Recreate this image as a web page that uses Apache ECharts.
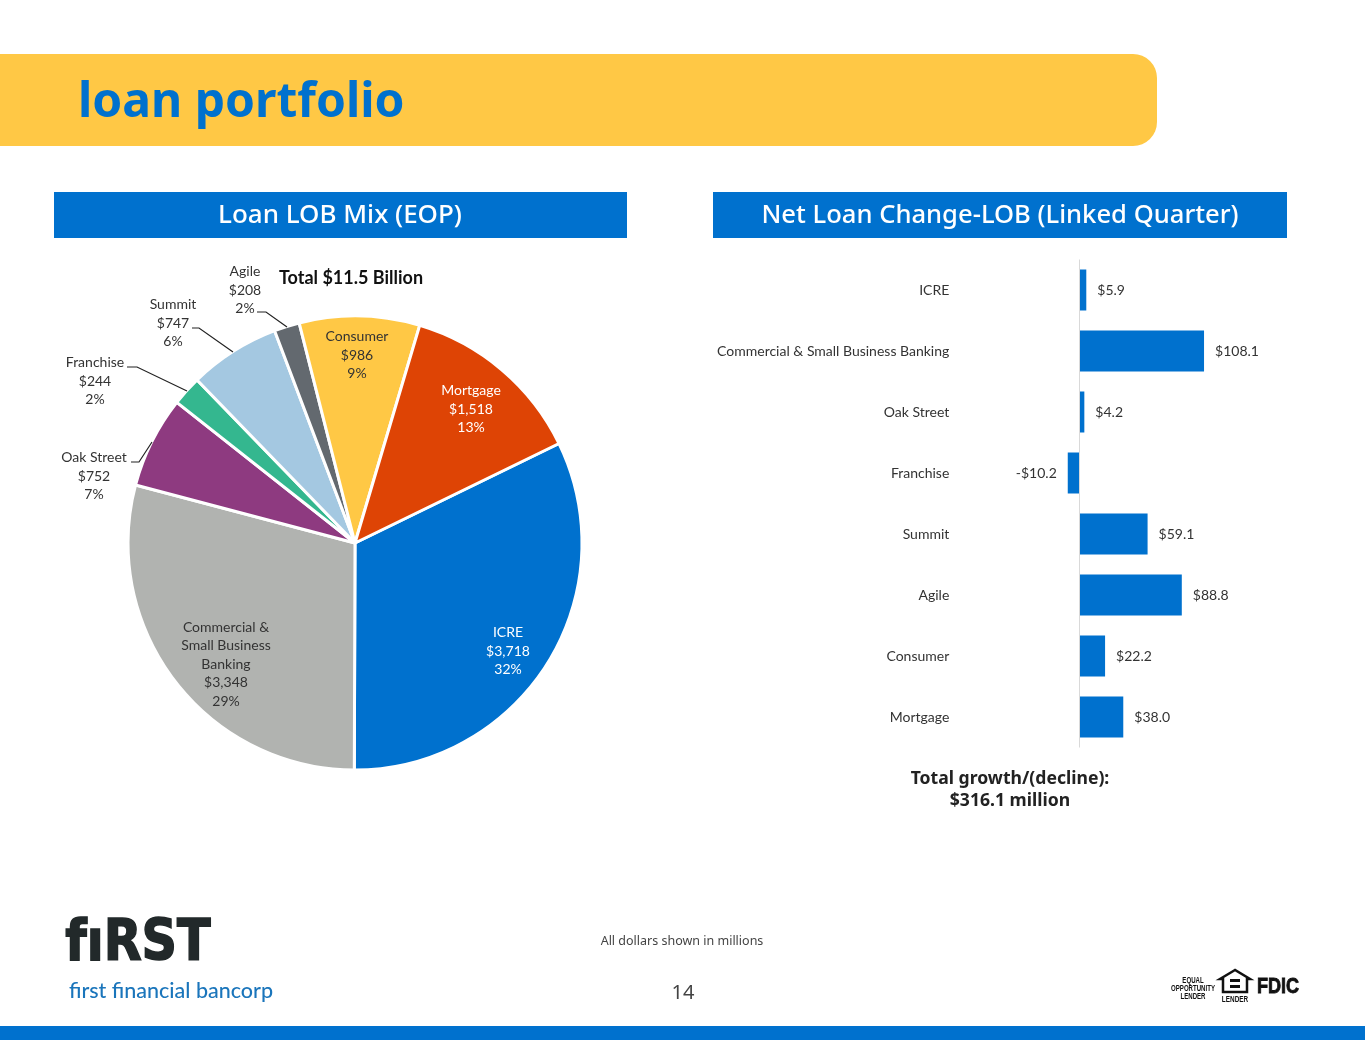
<!DOCTYPE html>
<html><head><meta charset="utf-8">
<style>html,body{margin:0;padding:0;background:#fff}#c{width:1365px;height:1055px}</style>
<script src="https://cdn.jsdelivr.net/npm/echarts@6/dist/echarts.min.js"></script>
</head><body><div id="c"></div>
<script>
const pieNames = ['ICRE','Commercial &\nSmall Business\nBanking','Oak Street','Franchise','Summit','Agile','Consumer','Mortgage'];
const pieValues = [3718,3348,752,244,747,208,986,1518];
const piePercents = [32,29,7,2,6,2,9,13];
const pieColors = ['#0071CE','#B1B3B0','#8E3A80','#34B78F','#A4C8E1','#63696F','#FFC845','#DE4405'];
const pieTextColors = ['#fff','#333','#333','#333','#333','#333','#333','#fff'];
const pieLabelPos = [[508,651],[226,664],[94,476],[95,381],[173,323],[245,290],[357,355],[471,409]];
const barCategories = ['ICRE','Commercial & Small Business Banking','Oak Street','Franchise','Summit','Agile','Consumer','Mortgage'];
const barValues = [5.9,108.1,4.2,-10.2,59.1,88.8,22.2,38.0];
const leaders = [
  [[131,462],[139,462],[152,442]],
  [[127,367],[137,367],[187,391]],
  [[192,328],[199,328],[233,352]],
  [[257,312],[266,312],[287,327]]
];
const BLUE = '#0071CE', HEAD = '"Noto Sans","Open Sans",sans-serif', BODY = 'Lato,"Open Sans",sans-serif';
const fmtMoney = v => (v < 0 ? '-$' : '$') + Math.abs(v).toFixed(1);
const txt = (x,y,text,font,fill,extra,sx,sy) => ({type:'text',x,y,scaleX:sx||1,scaleY:sy||1,silent:true,style:Object.assign({text,font,fill,align:'center',verticalAlign:'middle'},extra||{})});
const chart = echarts.init(document.getElementById('c'),null,{renderer:'canvas'});
chart.setOption({
  animation:false,
  backgroundColor:'#fff',
  graphic:{elements:[
    {type:'rect',z:-5,shape:{x:-30,y:54,width:1187,height:92,r:24},style:{fill:'#FFC845'}},
    txt(78,103,'loan portfolio','bold 48px '+HEAD,BLUE,{align:'left'}),
    {type:'rect',z:-5,shape:{x:54,y:192,width:573,height:46},style:{fill:BLUE}},
    {type:'rect',z:-5,shape:{x:713,y:192,width:574,height:46},style:{fill:BLUE}},
    txt(340,216,'Loan LOB Mix (EOP)','500 26px '+HEAD,'#fff'),
    txt(1000,216,'Net Loan Change-LOB (Linked Quarter)','500 25.6px '+HEAD,'#fff'),
    txt(351,278,'Total $11.5 Billion','bold 18px '+BODY,'#111'),
    txt(1010,779,'Total growth/(decline):','bold 17.6px '+HEAD,'#222'),
    txt(1010,801,'$316.1 million','bold 17.6px '+HEAD,'#222'),
    ...leaders.map(p=>({type:'polyline',z:20,silent:true,shape:{points:p},style:{stroke:'#222',lineWidth:1.2,fill:null}})),
    txt(682,941,'All dollars shown in millions','12.5px '+HEAD,'#444'),
    txt(683,993,'14','20px '+HEAD,'#444'),
    {type:'rect',shape:{x:0,y:1026,width:1365,height:14},style:{fill:BLUE}},
    txt(138,945,'fıRST','900 53px "DejaVu Sans",sans-serif','#22292A',{stroke:'#22292A',lineWidth:1.5},0.93,1.08),
    txt(171,991,'first financial bancorp','500 21.5px '+BODY,'#1A75BB'),
    txt(1193,981,'EQUAL','bold 8px "Liberation Sans"','#111',null,0.76,1.1),
    txt(1193,989,'OPPORTUNITY','bold 8px "Liberation Sans"','#111',null,0.76,1.1),
    txt(1193,997,'LENDER','bold 8px "Liberation Sans"','#111',null,0.76,1.1),
    {type:'polygon',shape:{points:[[1235,970],[1220,979],[1223,979],[1223,992],[1247,992],[1247,979],[1250,979]]},style:{fill:'#fff',stroke:'#111',lineWidth:2.5}},
    {type:'rect',shape:{x:1230,y:979,width:10,height:3},style:{fill:'#111'}},
    {type:'rect',shape:{x:1230,y:985,width:10,height:3},style:{fill:'#111'}},
    txt(1235,1000,'LENDER','bold 8px "Liberation Sans"','#111',null,0.8,1.1),
    txt(1278,987,'FDIC','bold 21px "Liberation Sans"','#111',{stroke:'#111',lineWidth:0.8},0.86,1.05)
  ]},
  grid:{left:964.3,top:259.5,width:288,height:488},
  xAxis:{type:'value',min:-100,max:150,show:false},
  yAxis:{type:'category',inverse:true,data:barCategories,
    axisLine:{show:false,onZero:false},axisTick:{show:false},splitLine:{show:false},
    axisLabel:{color:'#333',fontSize:14,fontFamily:BODY,margin:15}},
  series:[
    {type:'pie',center:[355,543],radius:[0,227],startAngle:26,clockwise:true,
      data:pieValues.map((v,i)=>({value:v,name:pieNames[i],itemStyle:{color:pieColors[i]},
        label:{color:pieTextColors[i]}})),
      itemStyle:{borderColor:'#fff',borderWidth:3},
      emphasis:{disabled:true},
      label:{show:true,position:'inside',fontFamily:BODY,fontSize:14,lineHeight:18.5,align:'center',
        formatter:p=>p.name+'\n$'+p.value.toLocaleString('en-US')+'\n'+piePercents[p.dataIndex]+'%'},
      labelLine:{show:false},
      labelLayout:p=>({x:pieLabelPos[p.dataIndex][0],y:pieLabelPos[p.dataIndex][1],align:'center',verticalAlign:'middle'})
    },
    {type:'bar',
      data:barValues.map(v=>({value:v,label:{position:v<0?'left':'right'}})),
      barWidth:41,itemStyle:{color:BLUE},
      label:{show:true,distance:11,color:'#333',fontSize:14,fontFamily:BODY,formatter:p=>fmtMoney(p.value)},
      markLine:{silent:true,symbol:'none',label:{show:false},lineStyle:{color:'#D9D9D9',width:1,type:'solid'},data:[{xAxis:0}]}
    }
  ]
});
</script></body></html>
